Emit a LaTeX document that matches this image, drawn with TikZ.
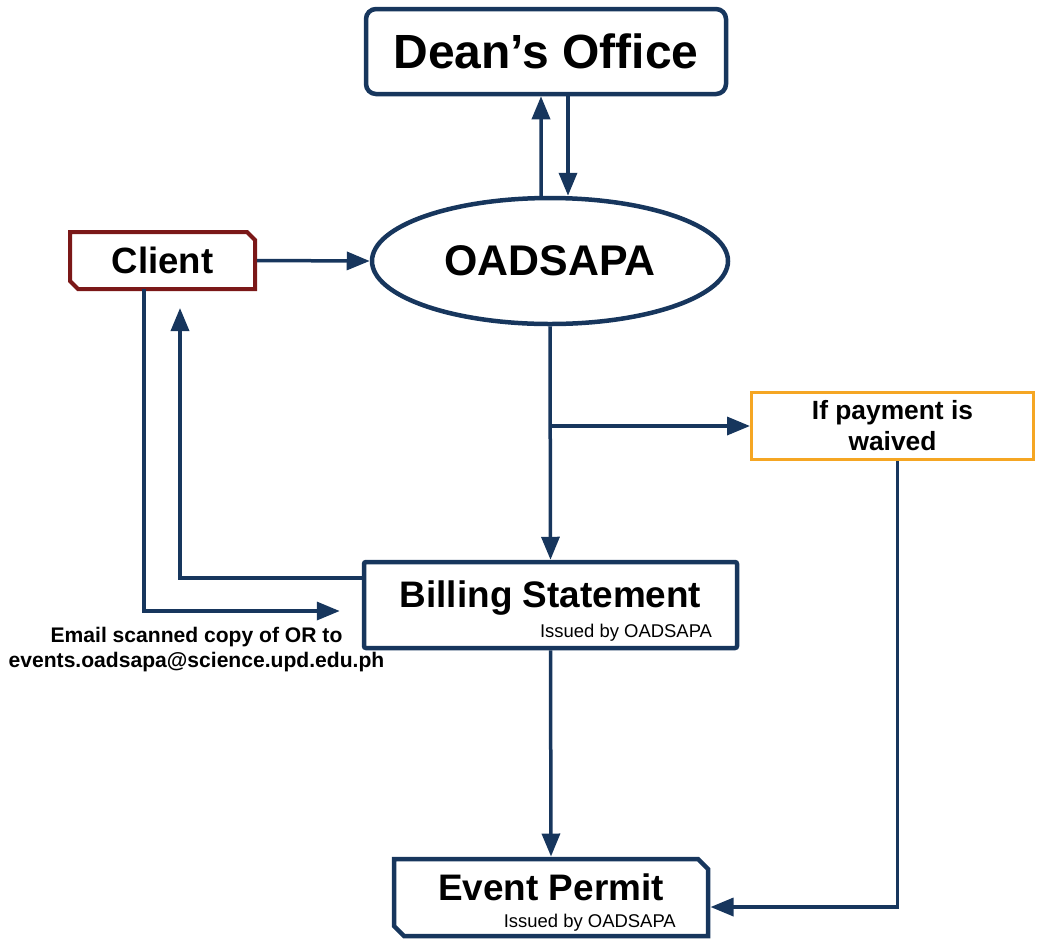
\documentclass[tikz,border=0pt]{standalone}
\usepackage{fontspec}
\setmainfont{Liberation Sans}
\usetikzlibrary{arrows.meta, shapes.geometric}
\definecolor{navy}{HTML}{17365D}
\definecolor{clientred}{HTML}{7B1818}
\definecolor{waiveorange}{HTML}{F5A623}
\tikzset{
    flow/.style={-{Triangle[length=0.46cm,width=0.36cm]}, draw=navy, line width=0.07cm},
    box/.style={draw=navy, line width=0.09cm, fill=white, inner sep=0pt},
    snipped/.style={inner sep=0pt, outer sep=0pt},
    snipline/.style={line width=0.09cm, line join=miter},
    title/.style={font=\bfseries\fontsize{21}{24}\selectfont, anchor=base},
    issued/.style={font=\fontsize{10.5}{12}\selectfont, anchor=base east}}

\begin{document}
\begin{tikzpicture}
        \useasboundingbox (0,0) rectangle (20.76,-18.84);

                    \node[box, rounded corners=0.2cm, minimum width=7.2cm, minimum height=1.7cm, font=\bfseries\fontsize{27.3}{32}\selectfont] (dean) at (10.92,-1.03) {Dean’s Office};
                    \node[box, ellipse, minimum width=7.12cm, minimum height=2.52cm, font=\bfseries\fontsize{24.4}{28}\selectfont] (oadsapa) at (11.0,-5.22) {OADSAPA};
                    \node[snipped, minimum width=3.7cm, minimum height=1.14cm, font=\bfseries\fontsize{20.8}{24}\selectfont] (client) at (3.25,-5.21) {Client};
                    \node[box, draw=waiveorange, line width=0.06cm, minimum width=5.64cm, minimum height=1.34cm, align=center, font=\bfseries\fontsize{15}{17.6}\selectfont] (waived) at (17.85,-8.52) {If payment is\\waived};

                    \node[box, rounded corners=0.04cm, minimum width=7.46cm, minimum height=1.72cm] (billing) at (11.01,-12.1) {};
                    \node[title] (billtitle) at ([yshift=-0.04cm]billing.center) {Billing Statement};
                    \node[issued] (billissued) at ([shift={(-0.42,-0.64)}]billing.east) {Issued by OADSAPA};

                    \node[snipped, minimum width=6.28cm, minimum height=1.54cm] (event) at (11.02,-17.95) {};
                    \node[title] (eventtitle) at ([yshift=-0.05cm]event.center) {Event Permit};
                    \node[issued] (eventissued) at ([shift={(-0.52,-0.59)}]event.east) {Issued by OADSAPA};

                    % boxes with the two corners cut off
                    \draw[snipline, clientred, line width=0.08cm] (client.north west) -- ([xshift=-0.16cm]client.north east) -- ([yshift=-0.16cm]client.north east) -- (client.south east) -- ([xshift=0.16cm]client.south west) -- ([yshift=0.16cm]client.south west) -- cycle;
                    \draw[snipline, navy] (event.north west) -- ([xshift=-0.2cm]event.north east) -- ([yshift=-0.2cm]event.north east) -- (event.south east) -- ([xshift=0.2cm]event.south west) -- ([yshift=0.2cm]event.south west) -- cycle;

                    \node[font=\bfseries\fontsize{12}{14.2}\selectfont, align=center] (mailnote) at (3.93,-12.99) {Email scanned copy of OR to\\events.oadsapa@science.upd.edu.ph};

                    \coordinate (split) at (oadsapa.south |- waived.west);
                    \coordinate (backtip) at ([shift={(0.35,-0.38)}]client.south);
                    \coordinate (mailtip) at ([shift={(-0.44,-0.12)}]billing.west);

                    \draw[flow] ([xshift=-0.18cm]oadsapa.north) -- ([xshift=-0.1cm]dean.south);
                    \draw[flow] ([xshift=0.44cm]dean.south) -- ([xshift=0.36cm]oadsapa.north);
                    \draw[flow] ([xshift=0.04cm]client.east) -- (oadsapa.west);
                    \draw[flow] (oadsapa.south) -- (billing.north);
                    \draw[flow] (split) -- (waived.west);
                    \draw[flow] ([xshift=0.1cm]waived.south) |- ([shift={(0.05cm,-0.19cm)}]event.east);
                    \draw[flow] (billing.south) -- ([yshift=0.05cm]event.north);
                    \draw[flow] ([yshift=0.54cm]billing.west) -| (backtip);
                    \draw[flow] ([xshift=-0.37cm]client.south) |- (mailtip);

                \end{tikzpicture}
\end{document}
